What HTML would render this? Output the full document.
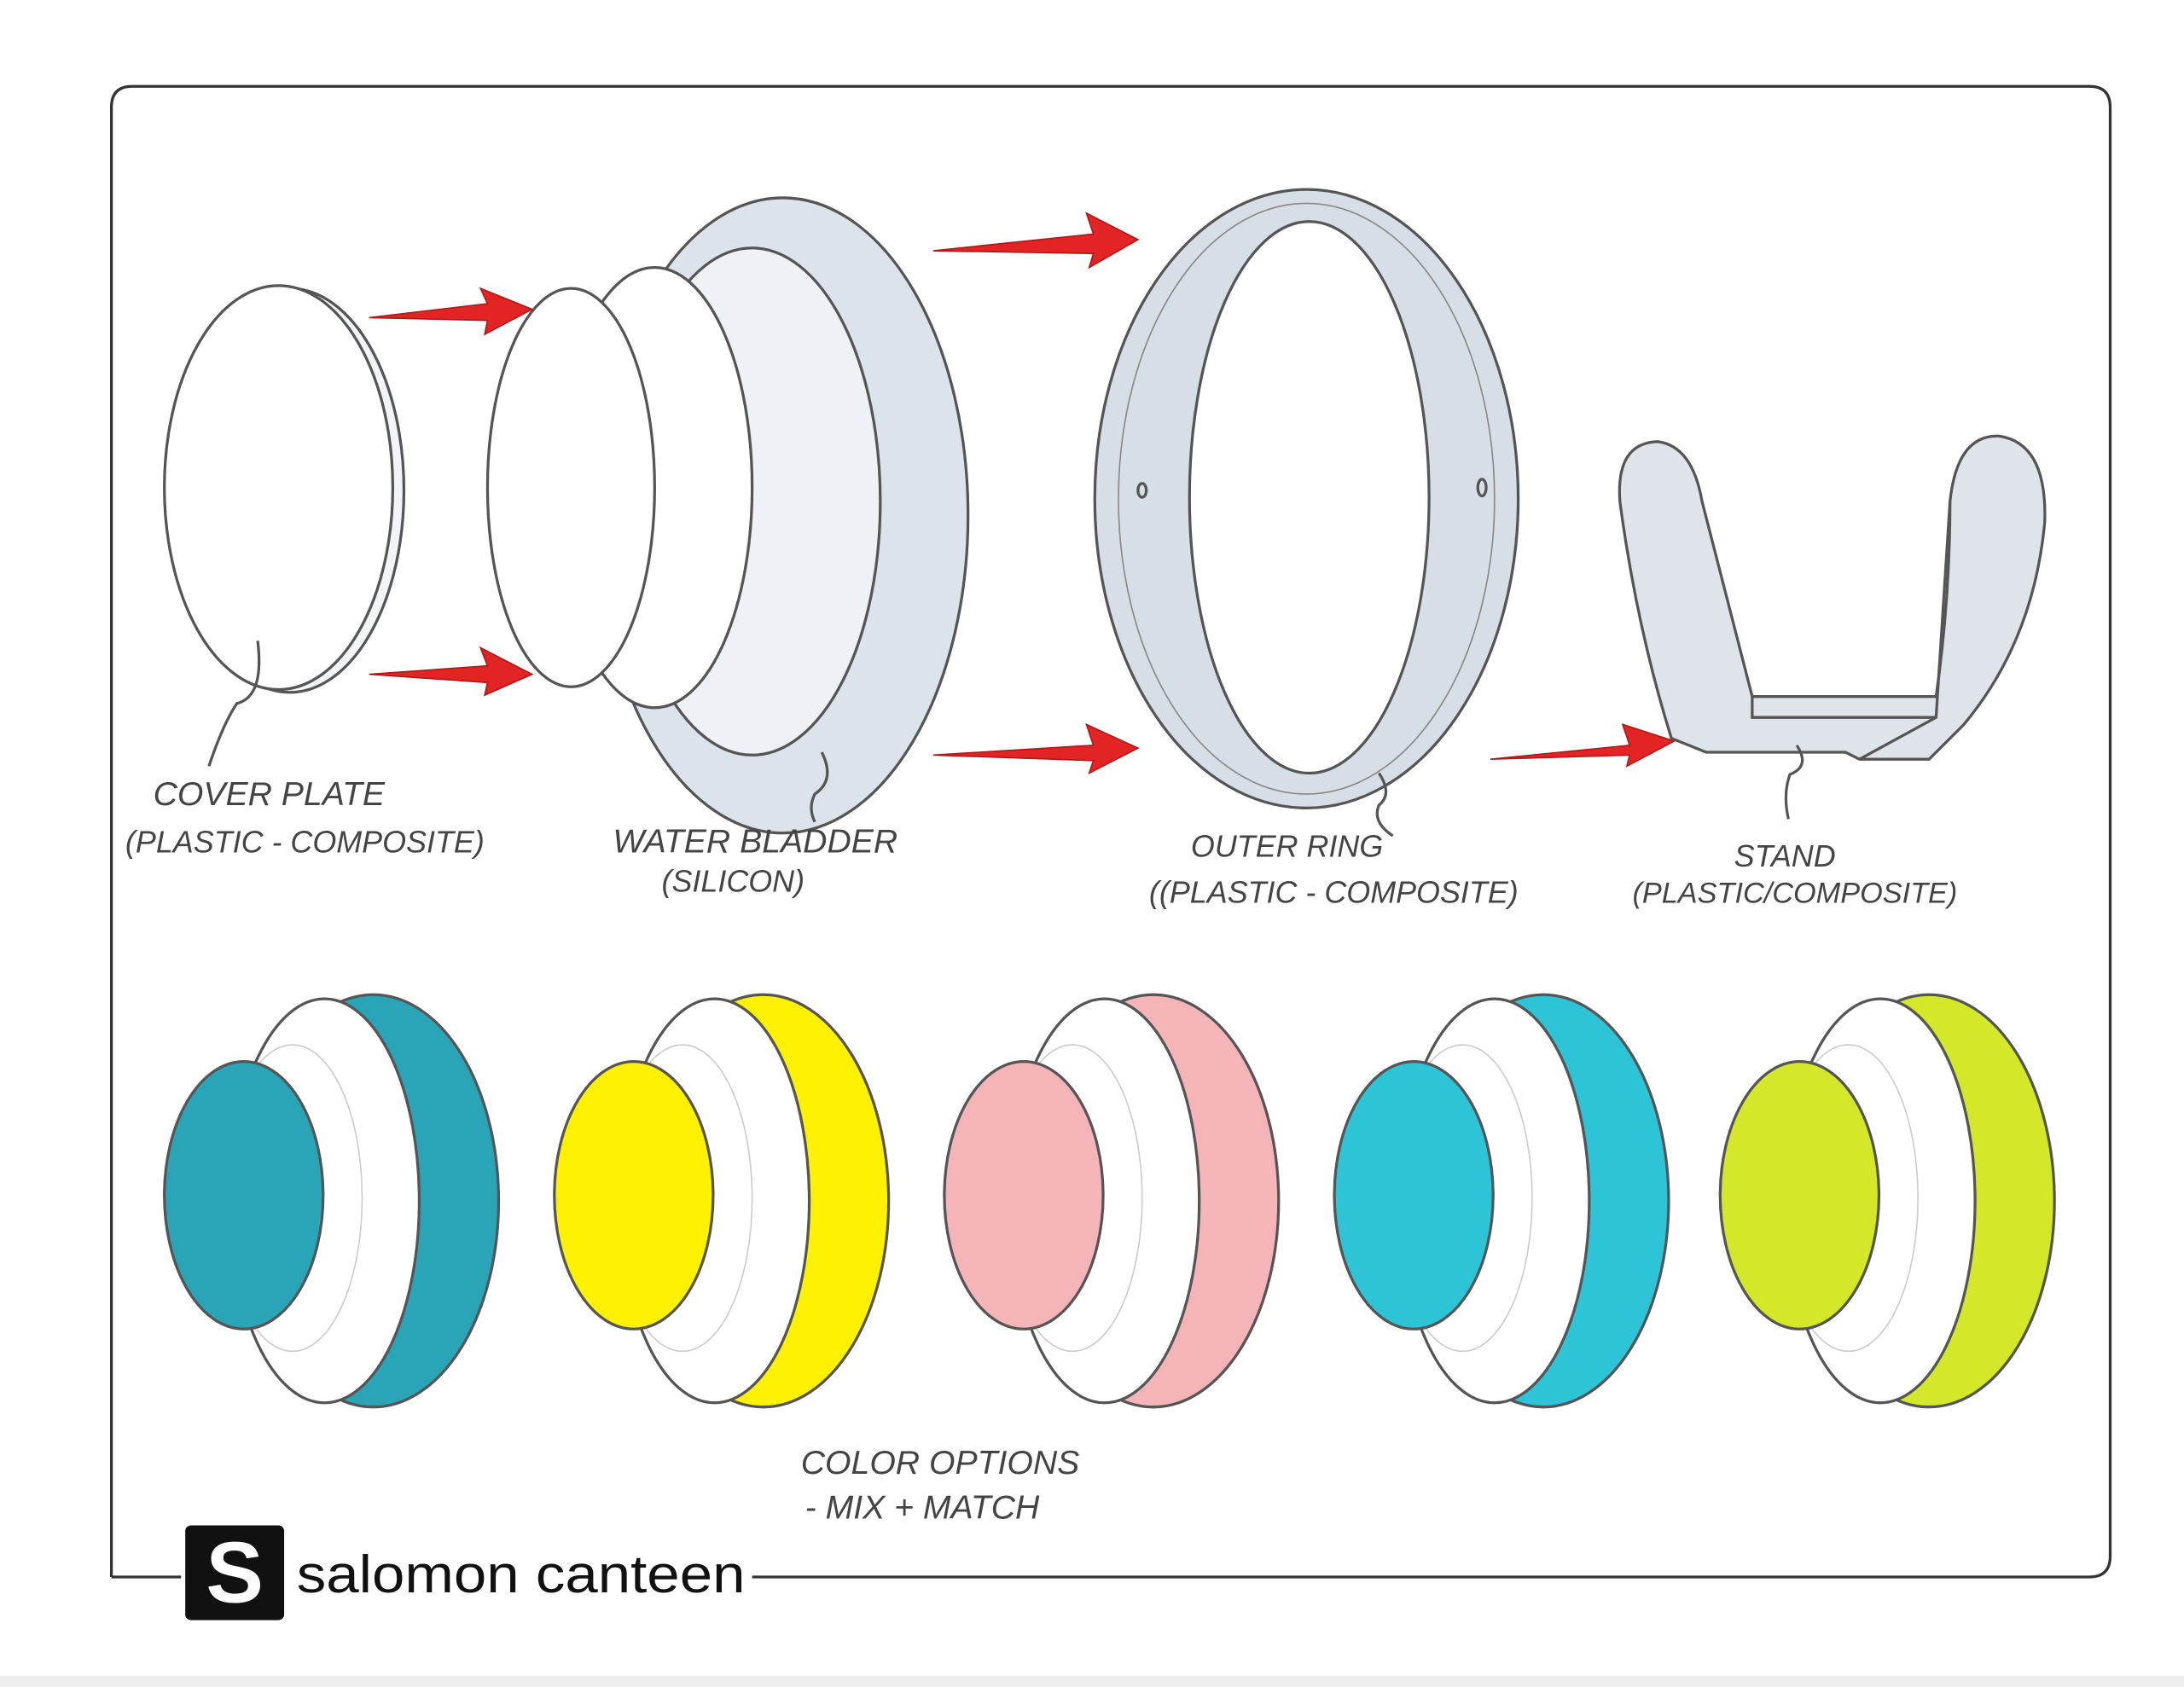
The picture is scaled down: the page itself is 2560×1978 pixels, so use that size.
<!DOCTYPE html>
<html><head><meta charset="utf-8"><style>
html,body{margin:0;padding:0;background:#fff;}
svg{display:block;}
text{font-family:"Liberation Sans",sans-serif;fill:#444;font-style:italic;}
</style></head><body>
<svg width="2560" height="1978" viewBox="0 0 1568 1211" preserveAspectRatio="none" xmlns="http://www.w3.org/2000/svg">
<rect x="0" y="0" width="1568" height="1211" fill="#fff"/>
<rect x="0" y="1203" width="1568" height="8" fill="#eeeeee"/>
<!-- border -->
<path d="M80,1132 L80,77 Q80,62 95,62 L1500,62 Q1515,62 1515,77 L1515,1117 Q1515,1132 1500,1132 L540,1132" fill="none" stroke="#333" stroke-width="2"/>
<line x1="80" y1="1132" x2="130" y2="1132" stroke="#333" stroke-width="2"/>
<!-- logo -->
<rect x="133" y="1095" width="71" height="68" rx="4" fill="#111"/>
<text x="168.5" y="1150" text-anchor="middle" style="font-style:normal;font-weight:bold;fill:#fff;font-size:62px">S</text>
<text x="213" y="1143" textLength="322" lengthAdjust="spacingAndGlyphs" style="font-style:normal;fill:#111;font-size:38px">salomon canteen</text>

<!-- arrows -->
<g fill="#e32424" stroke="#b01818" stroke-width="1">
<path d="M265,228 L350,218 L345,207 L382,222 L348,240 L350,230 Z"/>
<path d="M265,484 L350,478 L345,465 L382,484 L348,499 L350,490 Z"/>
<path d="M670,180 L785,168 L780,153 L817,172 L782,192 L785,182 Z"/>
<path d="M670,542 L785,535 L780,520 L817,537 L782,555 L785,546 Z"/>
<path d="M1070,545 L1170,535 L1165,520 L1202,532 L1168,550 L1170,542 Z"/>
</g>

<g fill="none" stroke="#555" stroke-width="2">
<!-- cover plate -->
<ellipse cx="208" cy="352" rx="82" ry="145" fill="#f2f4f7"/>
<ellipse cx="200" cy="350" rx="82" ry="145" fill="#fff"/>
<path d="M185,460 Q190,500 170,505 Q160,520 150,550"/>
<!-- water bladder -->
<ellipse cx="562" cy="370" rx="133" ry="228" fill="#dde3ea"/>
<ellipse cx="540" cy="360" rx="92" ry="182" fill="#eef1f5"/>
<ellipse cx="470" cy="350" rx="70" ry="158" fill="#fff"/>
<ellipse cx="410" cy="350" rx="60" ry="143" fill="#fff"/>
<path d="M590,540 Q600,560 585,570 Q580,580 585,590"/>
<!-- outer ring -->
<ellipse cx="938" cy="358" rx="152" ry="222" fill="#d8dee6"/>
<ellipse cx="940" cy="357" rx="86" ry="198" fill="#fff"/>
<ellipse cx="938" cy="358" rx="135" ry="212" stroke="#888" stroke-width="1"/>
<ellipse cx="820" cy="352" rx="3" ry="5"/>
<ellipse cx="1064" cy="350" rx="3" ry="6"/>
<path d="M990,555 Q1000,570 990,578 Q985,590 1000,600"/>
<!-- stand -->
<path d="M1200,530 Q1175,450 1163,360 Q1160,318 1190,317 Q1215,320 1222,360 L1258,500 L1390,500 Q1400,430 1400,360 Q1405,312 1435,313 Q1470,318 1468,375 Q1460,460 1410,520 L1385,545 L1335,545 L1325,540 L1225,540 Z" fill="#dfe4ea"/>
<path d="M1258,500 L1258,515 L1390,515 M1335,545 L1390,515 L1400,360"/>
<path d="M1290,535 Q1300,550 1285,556 Q1280,570 1284,588"/>
</g>

<!-- labels top -->
<text x="110" y="578" font-size="24">COVER PLATE</text>
<text x="90" y="612" font-size="22">(PLASTIC - COMPOSITE)</text>
<text x="440" y="612" font-size="24">WATER BLADDER</text>
<text x="475" y="640" font-size="22">(SILICON)</text>
<text x="855" y="615" font-size="22">OUTER RING</text>
<text x="825" y="648" font-size="22">((PLASTIC - COMPOSITE)</text>
<text x="1245" y="622" font-size="22">STAND</text>
<text x="1172" y="648" font-size="21">(PLASTIC/COMPOSITE)</text>

<!-- color options -->
<g stroke="#555" stroke-width="2">
<g>
<ellipse cx="268" cy="862" rx="90" ry="148" fill="#2aa5b8"/>
<ellipse cx="233" cy="862" rx="68" ry="145" fill="#fff"/>
<ellipse cx="210" cy="860" rx="50" ry="110" fill="#fff" stroke="#ccc" stroke-width="1"/>
<ellipse cx="175" cy="858" rx="57" ry="96" fill="#2aa5b8"/>
</g>
<g transform="translate(280,0)">
<ellipse cx="268" cy="862" rx="90" ry="148" fill="#fff200"/>
<ellipse cx="233" cy="862" rx="68" ry="145" fill="#fff"/>
<ellipse cx="210" cy="860" rx="50" ry="110" fill="#fff" stroke="#ccc" stroke-width="1"/>
<ellipse cx="175" cy="858" rx="57" ry="96" fill="#fff200"/>
</g>
<g transform="translate(560,0)">
<ellipse cx="268" cy="862" rx="90" ry="148" fill="#f5b5b8"/>
<ellipse cx="233" cy="862" rx="68" ry="145" fill="#fff"/>
<ellipse cx="210" cy="860" rx="50" ry="110" fill="#fff" stroke="#ccc" stroke-width="1"/>
<ellipse cx="175" cy="858" rx="57" ry="96" fill="#f5b5b8"/>
</g>
<g transform="translate(840,0)">
<ellipse cx="268" cy="862" rx="90" ry="148" fill="#2cc4d6"/>
<ellipse cx="233" cy="862" rx="68" ry="145" fill="#fff"/>
<ellipse cx="210" cy="860" rx="50" ry="110" fill="#fff" stroke="#ccc" stroke-width="1"/>
<ellipse cx="175" cy="858" rx="57" ry="96" fill="#2cc4d6"/>
</g>
<g transform="translate(1117,0)">
<ellipse cx="268" cy="862" rx="90" ry="148" fill="#d4e82a"/>
<ellipse cx="233" cy="862" rx="68" ry="145" fill="#fff"/>
<ellipse cx="210" cy="860" rx="50" ry="110" fill="#fff" stroke="#ccc" stroke-width="1"/>
<ellipse cx="175" cy="858" rx="57" ry="96" fill="#d4e82a"/>
</g>
</g>
<text x="575" y="1058" font-size="24">COLOR OPTIONS</text>
<text x="578" y="1090" font-size="24">- MIX + MATCH</text>
</svg>
</body></html>
